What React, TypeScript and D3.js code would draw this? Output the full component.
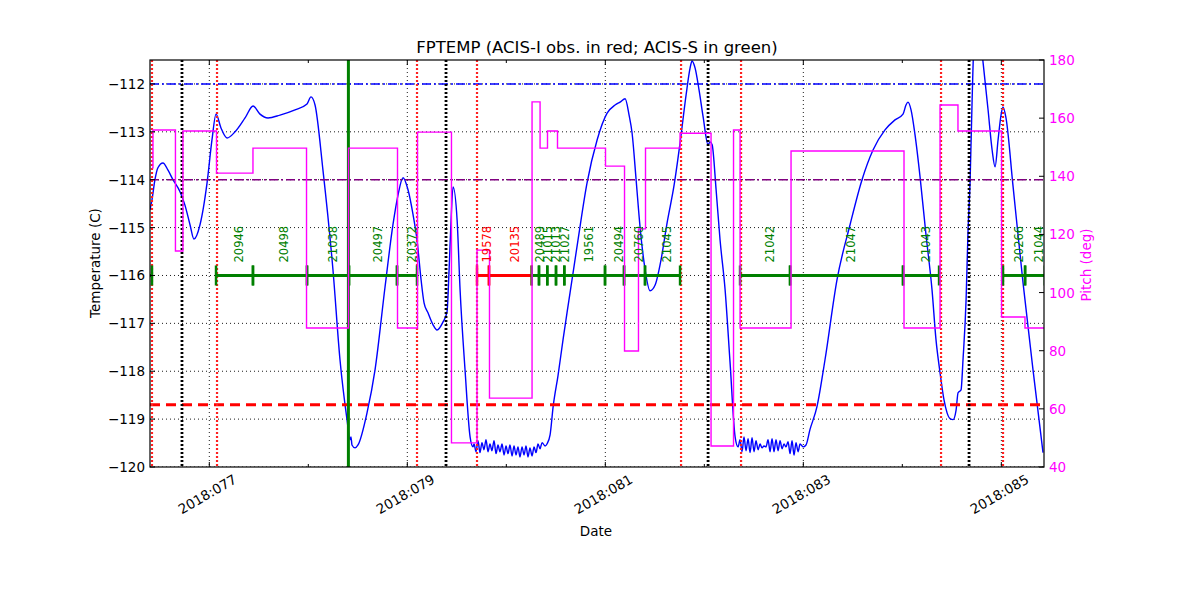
import React from 'react';
import * as d3 from 'd3';

const W = 1200;
const H = 600;
const PL = 150, PR = 1044, PT = 60, PB = 467;

// Temperature (FPTEMP, deg C) vs day-of-year 2018
const tempTimes = [
  76.401, 76.421, 76.451, 76.481, 76.532, 76.583, 76.633, 76.704, 76.754, 76.805, 76.845, 76.906, 76.977, 77.027, 77.068,
  77.118, 77.179, 77.260, 77.361, 77.442, 77.512, 77.593, 77.714, 77.866, 77.987, 78.027, 78.068, 78.148, 78.249, 78.320,
  78.391, 78.421, 78.431, 78.441, 78.472, 78.502, 78.593, 78.674, 78.775, 78.855, 78.906, 78.957, 79.007, 79.058, 79.098,
  79.139, 79.169, 79.209, 79.260, 79.300, 79.361, 79.401, 79.422, 79.442, 79.462, 79.503, 79.533, 79.583, 79.634, 79.664,
  79.674, 79.694, 79.714, 79.734, 79.754, 79.774, 79.795, 79.815, 79.835, 79.855, 79.876, 79.896, 79.916, 79.936, 79.957,
  79.977, 79.997, 80.017, 80.037, 80.058, 80.078, 80.098, 80.118, 80.138, 80.159, 80.179, 80.199, 80.219, 80.239, 80.260,
  80.280, 80.300, 80.320, 80.341, 80.361, 80.391, 80.411,
  80.442, 80.473, 80.523, 80.573, 80.613, 80.644, 80.724, 80.815, 80.917, 81.018, 81.099, 81.149, 81.200, 81.240, 81.270,
  81.311, 81.351, 81.402, 81.452, 81.503, 81.563, 81.624, 81.695, 81.755, 81.816, 81.856, 81.876, 81.907, 81.947, 81.988,
  82.038, 82.058, 82.079, 82.119, 82.159, 82.210, 82.260, 82.311, 82.341,
  82.361, 82.381, 82.401, 82.421, 82.442, 82.462, 82.482, 82.502, 82.522, 82.543, 82.563, 82.583, 82.603, 82.623, 82.644,
  82.664, 82.684, 82.704, 82.724, 82.745, 82.765, 82.785, 82.805, 82.825, 82.846, 82.866, 82.886, 82.906, 82.926, 82.947,
  82.967, 82.997,
  83.027, 83.067, 83.138, 83.219, 83.340, 83.472, 83.593, 83.704, 83.825, 83.926, 84.007, 84.037, 84.057, 84.088, 84.128,
  84.179, 84.239, 84.300, 84.340, 84.381, 84.421, 84.452, 84.482, 84.512, 84.543, 84.563, 84.593, 84.613, 84.644, 84.664,
  84.684, 84.705, 84.725, 84.765, 84.816, 84.866, 84.907, 84.937, 84.967, 84.997, 85.017, 85.047, 85.118, 85.219, 85.320,
  85.421,
];
const tempValues = [
  -114.63, -114.42, -114.00, -113.75, -113.65, -113.80, -114.00, -114.25, -114.53, -114.94, -115.24, -114.94, -114.07, -113.17, -112.63,
  -112.92, -113.13, -113.00, -112.71, -112.46, -112.63, -112.71, -112.65, -112.54, -112.42, -112.27, -112.44, -113.80, -115.88, -117.76,
  -119.01, -119.43, -119.37, -119.54, -119.60, -119.54, -118.87, -117.97, -116.24, -114.94, -114.32, -113.96, -114.21, -114.73, -115.26,
  -116.09, -116.57, -116.78, -117.03, -117.14, -116.97, -116.76, -115.88, -114.84, -114.15, -114.84, -116.30, -117.97, -119.37, -119.58,
  -119.52, -119.68, -119.45, -119.70, -119.49, -119.64, -119.43, -119.68, -119.52, -119.66, -119.45, -119.72, -119.54, -119.68, -119.52,
  -119.75, -119.56, -119.72, -119.54, -119.77, -119.56, -119.75, -119.58, -119.79, -119.58, -119.75, -119.56, -119.79, -119.60, -119.77,
  -119.58, -119.70, -119.52, -119.62, -119.49, -119.56, -119.52,
  -119.33, -118.74, -118.08, -117.34, -116.78, -116.36, -115.26, -114.07, -113.17, -112.61, -112.44, -112.38, -112.31, -112.65, -113.02,
  -114.00, -114.99, -115.88, -116.32, -116.20, -115.67, -114.90, -114.11, -113.23, -112.23, -111.67, -111.52, -111.67, -112.13, -112.69,
  -113.27, -113.21, -113.27, -114.21, -115.26, -116.30, -117.82, -119.37, -119.58,
  -119.43, -119.68, -119.37, -119.66, -119.41, -119.70, -119.39, -119.68, -119.45, -119.64, -119.52, -119.60, -119.56, -119.58, -119.43,
  -119.68, -119.41, -119.68, -119.43, -119.66, -119.45, -119.62, -119.52, -119.58, -119.47, -119.72, -119.45, -119.75, -119.49, -119.68,
  -119.52, -119.58,
  -119.54, -119.22, -118.74, -117.76, -116.09, -114.94, -114.00, -113.38, -112.96, -112.75, -112.63, -112.44, -112.38, -112.54, -113.06,
  -113.94, -115.15, -116.30, -117.34, -118.03, -118.60, -118.87, -118.99, -119.01, -118.81, -118.45, -118.39, -117.76, -116.51, -115.05,
  -114.07, -112.33, -111.08, -110.66, -111.56, -112.54, -113.38, -113.73, -113.17, -112.65, -112.48, -112.71, -114.13, -116.15, -117.97,
  -119.70,
];

// Pitch (deg): step changes (start time, value)
const pitchTimes = [
  76.421, 76.431, 76.658, 76.734, 77.073, 77.441, 77.982, 78.406, 78.901, 79.103, 79.446, 79.704, 79.830, 80.260, 80.341,
  80.416, 80.517, 81.002, 81.194, 81.335, 81.406, 81.755, 82.068, 82.295, 82.361, 82.876, 84.017, 84.381, 84.562, 85.002,
  85.239, 85.431,
];
const pitchValues = [
  142.9, 155.9, 114.3, 155.6, 141.1, 149.7, 87.8, 149.7, 87.8, 155.2, 48.3, 114.6, 63.7, 165.6, 149.7,
  155.6, 149.7, 143.5, 79.9, 121.9, 149.7, 154.8, 47.2, 155.9, 87.8, 148.7, 87.8, 164.5, 155.6, 91.6,
  87.8, 87.8,
];

// Observations
const obsIds = ['', '20946', '20498', '21038', '20497', '20372', '19578', '20135', '20489', '21015', '21013', '21027', '19561', '20494', '20760', '21045', '21042', '21047', '21043', '20266', '21044'];
const obsInstr = ['S', 'S', 'S', 'S', 'S', 'S', 'I', 'I', 'S', 'S', 'S', 'S', 'S', 'S', 'S', 'S', 'S', 'S', 'S', 'S', 'S'];
const obsStart = [76.35, 77.068, 77.441, 77.987, 78.411, 78.896, 79.704, 79.825, 80.257, 80.330, 80.414, 80.502, 80.586, 80.997, 81.189, 81.401, 82.361, 82.866, 84.007, 85.017, 85.240];
const obsStop = [76.421, 77.441, 77.987, 78.411, 78.896, 79.098, 79.825, 80.257, 80.330, 80.414, 80.502, 80.586, 80.997, 81.189, 81.401, 81.755, 82.866, 84.007, 84.371, 85.240, 85.44];

const radZoneTimes = [76.724, 79.391, 82.038, 84.674];
const transitionTimes = [76.421, 77.078, 79.098, 79.704, 81.765, 82.371, 84.391, 85.017];
const nowTime = 78.405;

const planLimit = -112.0;
const midLimit = -114.0;
const redLimit = -118.7;
const obsLevel = -116.0;

const xDomain = [76.401, 85.431];
const tempDomain = [-120, -111.5];
const pitchDomain = [40, 180];
const xMajorTicks = [77, 79, 81, 83, 85];
const xMinorTicks = [78, 80, 82, 84];
const tempTicks = [-112, -113, -114, -115, -116, -117, -118, -119, -120];
const pitchTicks = [40, 60, 80, 100, 120, 140, 160, 180];

const FONT = 'DejaVu Sans';

export default function App() {
  const x = d3.scaleLinear().domain(xDomain).range([PL, PR]);
  const y = d3.scaleLinear().domain(tempDomain).range([PB, PT]);
  const yp = d3.scaleLinear().domain(pitchDomain).range([PB, PT]);

  const tempLine = d3.line<number>()
    .curve(d3.curveMonotoneX)
    .x((_, i) => x(tempTimes[i]))
    .y((d) => y(d))(tempValues) || '';
  const pitchLine = d3.line<number>()
    .curve(d3.curveStepAfter)
    .x((_, i) => x(pitchTimes[i]))
    .y((d) => yp(d))(pitchValues) || '';

  const fmtDay = (d: number) => `2018:${String(d).padStart(3, '0')}`;
  const fmtTemp = (v: number) => (v < 0 ? '\u2212' + Math.abs(v) : String(v));
  const obsColor = (s: string) => (s === 'I' ? '#ff0000' : '#008000');

  return (
    <svg width={W} height={H} style={{ position: 'absolute', left: 0, top: 0, background: '#fff' }} fontFamily={FONT}>
      <defs>
        <clipPath id="plotclip">
          <rect x={PL} y={PT} width={PR - PL} height={PB - PT} />
        </clipPath>
      </defs>
      <rect x={0} y={0} width={W} height={H} fill="#fff" />
      <g clipPath="url(#plotclip)">
        {/* grid */}
        {tempTicks.map((t) => (
          <line key={'gy' + t} x1={PL} x2={PR} y1={y(t)} y2={y(t)} stroke="#000" strokeWidth={0.9} strokeDasharray="1,3" />
        ))}
        {xMajorTicks.map((t) => (
          <line key={'gx' + t} x1={x(t)} x2={x(t)} y1={PT} y2={PB} stroke="#000" strokeWidth={0.9} strokeDasharray="1,3" />
        ))}
        {/* temperature */}
        <path d={tempLine} fill="none" stroke="#0000ff" strokeWidth={1.4} strokeLinejoin="round" />
        {/* limit lines */}
        <line x1={PL} x2={PR} y1={y(planLimit)} y2={y(planLimit)} stroke="#0000ff" strokeWidth={1.4} strokeDasharray="9,3,2,3" />
        <line x1={PL} x2={PR} y1={y(midLimit)} y2={y(midLimit)} stroke="#800080" strokeWidth={1.4} strokeDasharray="9,3,2,3" />
        <line x1={PL} x2={PR} y1={y(redLimit)} y2={y(redLimit)} stroke="#ff0000" strokeWidth={3} strokeDasharray="10,6" />
        {/* vertical markers */}
        {radZoneTimes.map((t, i) => (
          <line key={'rz' + i} x1={x(t)} x2={x(t)} y1={PT} y2={PB} stroke="#000" strokeWidth={2.8} strokeDasharray="2,2" />
        ))}
        {transitionTimes.map((t, i) => (
          <line key={'tr' + i} x1={x(t)} x2={x(t)} y1={PT} y2={PB} stroke="#ff2020" strokeWidth={2.2} strokeDasharray="2,2" />
        ))}
        <line x1={x(nowTime)} x2={x(nowTime)} y1={PT} y2={PB} stroke="#008000" strokeWidth={3} />
        {/* observations */}
        {obsIds.map((id, i) => {
          const c = obsColor(obsInstr[i]);
          const yy = y(obsLevel);
          return (
            <g key={'ob' + i}>
              <line x1={x(obsStart[i])} x2={x(obsStop[i])} y1={yy} y2={yy} stroke={c} strokeWidth={3} />
              <line x1={x(obsStart[i])} x2={x(obsStart[i])} y1={yy - 10} y2={yy + 10} stroke={c} strokeWidth={2.5} />
              <line x1={x(obsStop[i])} x2={x(obsStop[i])} y1={yy - 10} y2={yy + 10} stroke={c} strokeWidth={2.5} />
            </g>
          );
        })}
        {/* pitch */}
        <path d={pitchLine} fill="none" stroke="#ff00ff" strokeWidth={1.4} />
      </g>
      {/* obs labels */}
      {obsIds.map((id, i) => {
        if (!id) return null;
        const mid = (obsStart[i] + obsStop[i]) / 2;
        const lx = x(mid) + 4.5;
        const ly = y(obsLevel) - 13;
        return (
          <text key={'ol' + i} x={lx} y={ly} transform={`rotate(-90,${lx},${ly})`} fontSize={11.5} fill={obsColor(obsInstr[i])} textAnchor="start" dominantBaseline="central">
            {id}
          </text>
        );
      })}
      {/* frame */}
      <rect x={PL} y={PT} width={PR - PL} height={PB - PT} fill="none" stroke="#000" strokeWidth={1.2} />
      {/* x ticks */}
      {xMajorTicks.map((t) => (
        <g key={'xt' + t}>
          <line x1={x(t)} x2={x(t)} y1={PB} y2={PB - 5} stroke="#000" />
          <line x1={x(t)} x2={x(t)} y1={PT} y2={PT + 5} stroke="#000" />
          <text x={x(t) - 2} y={494} transform={`rotate(-30,${x(t) - 2},494)`} textAnchor="middle" dominantBaseline="central" fontSize={13.5}>
            {fmtDay(t)}
          </text>
        </g>
      ))}
      {xMinorTicks.map((t) => (
        <g key={'xm' + t}>
          <line x1={x(t)} x2={x(t)} y1={PB} y2={PB - 3} stroke="#000" />
          <line x1={x(t)} x2={x(t)} y1={PT} y2={PT + 3} stroke="#000" />
        </g>
      ))}
      {/* left y ticks */}
      {tempTicks.map((t) => (
        <g key={'yt' + t}>
          <line x1={PL} x2={PL + 5} y1={y(t)} y2={y(t)} stroke="#000" />
          <text x={PL - 5} y={y(t)} textAnchor="end" dominantBaseline="central" fontSize={13.5}>
            {fmtTemp(t)}
          </text>
        </g>
      ))}
      {/* right y ticks */}
      {pitchTicks.map((t) => (
        <g key={'pt' + t}>
          <line x1={PR - 5} x2={PR} y1={yp(t)} y2={yp(t)} stroke="#000" />
          <text x={PR + 5} y={yp(t)} textAnchor="start" dominantBaseline="central" fontSize={13.5} fill="#ff00ff">
            {t}
          </text>
        </g>
      ))}
      {/* titles */}
      <text x={(PL + PR) / 2} y={47} textAnchor="middle" dominantBaseline="central" fontSize={16.5}>
        FPTEMP (ACIS-I obs. in red; ACIS-S in green)
      </text>
      <text x={(PL + PR) / 2 - 1} y={531} textAnchor="middle" dominantBaseline="central" fontSize={13.5}>
        Date
      </text>
      <text x={95} y={263} transform="rotate(-90,95,263)" textAnchor="middle" dominantBaseline="central" fontSize={13.5}>
        Temperature (C)
      </text>
      <text x={1086} y={265} transform="rotate(-90,1086,265)" textAnchor="middle" dominantBaseline="central" fontSize={13.5} fill="#ff00ff">
        Pitch (deg)
      </text>
    </svg>
  );
}
